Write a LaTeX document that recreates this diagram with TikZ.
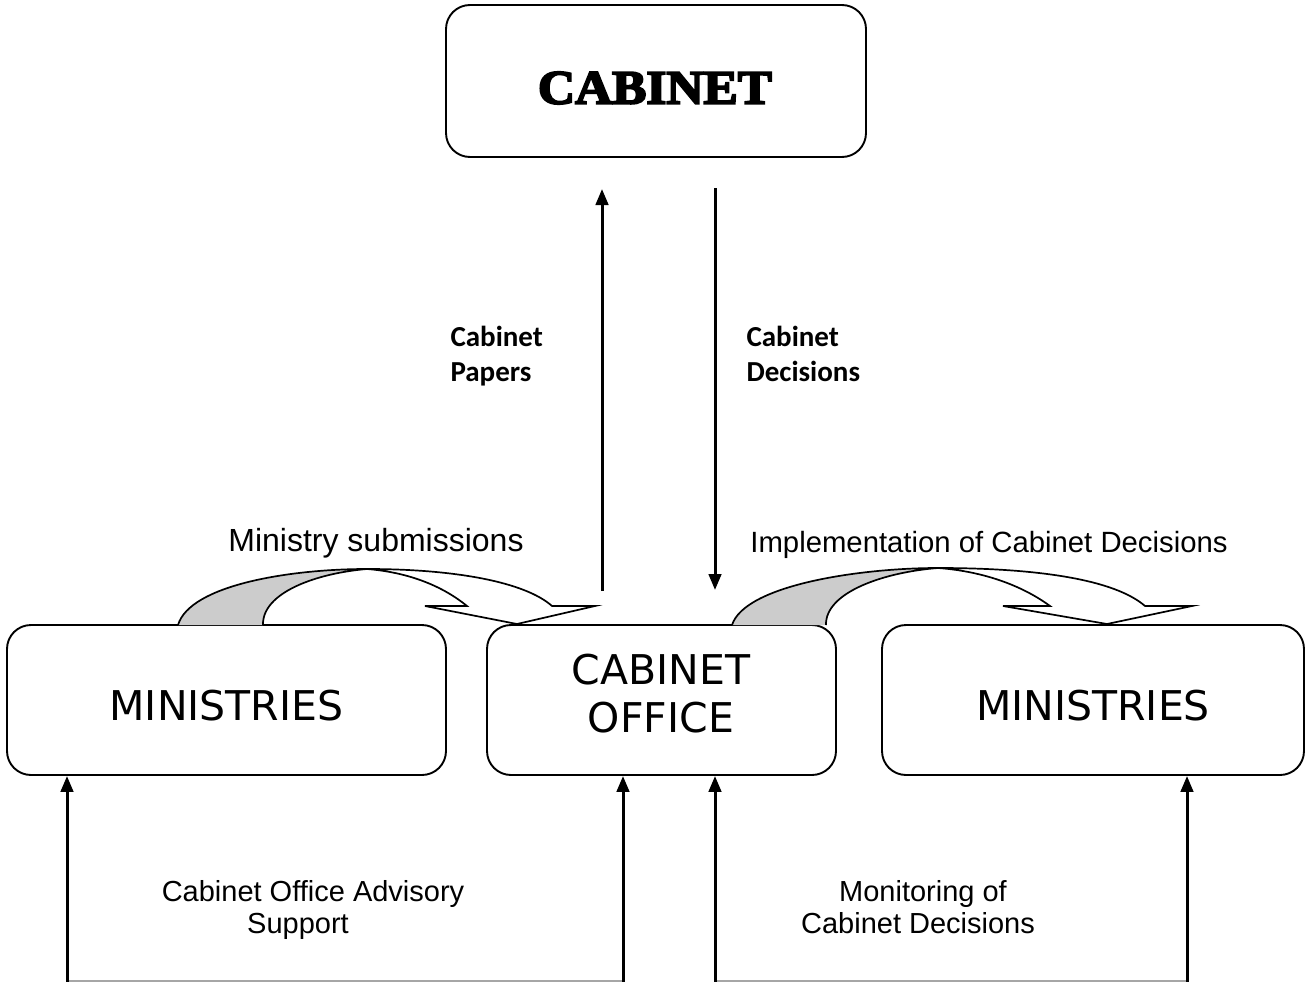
\documentclass[tikz,border=0pt]{standalone}
\usepackage{fontspec}
\setmainfont{Liberation Sans}
\newfontfamily\titlefont[FakeBold=4]{Liberation Serif Bold}
\newfontfamily\boxfont{DejaVu Sans}
\newfontfamily\calfont{Carlito}
\usetikzlibrary{arrows.meta}
\begin{document}
\begin{tikzpicture}[x=1pt,y=-1pt,
  box/.style={draw, line width=1.9pt, rounded corners=24pt, fill=white, inner sep=0pt},
  conn/.style={line width=3pt, -{Triangle[length=16pt,width=12.5pt]}},
  boxtext/.style={font=\boxfont\fontsize{41}{48}\selectfont, align=center},
  lbl/.style={font=\fontsize{29}{32}\selectfont, anchor=base},
  blbl/.style={font=\calfont\bfseries\fontsize{29}{35}\selectfont, anchor=base west},
  band/.style={draw, line width=1.7pt, line join=miter},
]
\useasboundingbox (0,0) rectangle (1307,982);
\fill[white] (0,0) rectangle (1307,982);

% boxes
\node[box, minimum width=420pt, minimum height=152pt] (cab) at (656,81) {};
\node[font=\titlefont\fontsize{48}{48}\selectfont, xscale=1.07] (cabt) at (655,88) {CABINET};
\node[box, minimum width=439pt, minimum height=150pt] (minL) at (226.5,700) {};
\node[boxtext] (minLt) at (226.5,706) {MINISTRIES};
\node[box, minimum width=349pt, minimum height=150pt] (co) at (661.5,700) {};
\node[boxtext] (cot) at (661,694) {CABINET\\OFFICE};
\node[box, minimum width=422pt, minimum height=150pt] (minR) at (1093,700) {};
\node[boxtext] (minRt) at (1093,706) {MINISTRIES};

% vertical arrows between cabinet and cabinet office
\coordinate (pU0) at (602,591);
\coordinate (pU1) at (602,189);
\coordinate (pD0) at (715,188);
\coordinate (pD1) at (715,590);
\draw[conn] (pU0) -- (pU1);
\draw[conn] (pD0) -- (pD1);
\node[blbl] (papers) at (447,346) {Cabinet};
\node[blbl] (papers2) at (447,381) {Papers};
\node[blbl] (dec) at (743,346) {Cabinet};
\node[blbl] (dec2) at (743,381) {Decisions};

% curved arrow left
\fill[black!20] (178,625) .. controls (190,585) and (290,569) .. (367,569)
   .. controls (318,573) and (262,592) .. (263,625) -- cycle;
\draw[band] (178,625) .. controls (190,585) and (290,569) .. (367,569)
   .. controls (318,573) and (262,592) .. (263,625);
\filldraw[band, fill=white] (367,569) .. controls (455,569) and (525,582) .. (552,606)
   -- (595,606) -- (517,624) -- (425,606) -- (467,606)
   .. controls (440,584) and (405,572) .. (367,569);
\node[lbl, font=\fontsize{32}{32}\selectfont] (subm) at (376,551) {Ministry submissions};

% curved arrow right
\fill[black!20] (732,625) .. controls (745,585) and (860,568) .. (938,568)
   .. controls (885,572) and (825,592) .. (826,625) -- cycle;
\draw[band] (732,625) .. controls (745,585) and (860,568) .. (938,568)
   .. controls (885,572) and (825,592) .. (826,625);
\filldraw[band, fill=white] (938,568) .. controls (1040,568) and (1115,580) .. (1145,606)
   -- (1192,606) -- (1107,624) -- (1003,606) -- (1050,606)
   .. controls (1020,584) and (980,571) .. (938,568);
\node[lbl, font=\fontsize{29.3}{32}\selectfont] (impl) at (989,552) {Implementation of Cabinet Decisions};

% bottom loops
\coordinate (b1) at (67,982);
\coordinate (b2) at (623,982);
\coordinate (b3) at (715,982);
\coordinate (b4) at (1187,982);
\draw[gray!70, line width=1.5pt] (67,981) -- (623,981);
\draw[gray!70, line width=1.5pt] (715,981) -- (1187,981);
\draw[conn] (b1) -- (minL.south -| b1);
\draw[conn] (b2) -- (co.south -| b2);
\draw[conn] (b3) -- (co.south -| b3);
\draw[conn] (b4) -- (minR.south -| b4);
\node[lbl] (adv1) at (313,901) {Cabinet Office Advisory};
\node[lbl] (adv2) at (298,933) {Support};
\node[lbl] (mon1) at (923,901) {Monitoring of};
\node[lbl] (mon2) at (918,933) {Cabinet Decisions};
\end{tikzpicture}
\end{document}
